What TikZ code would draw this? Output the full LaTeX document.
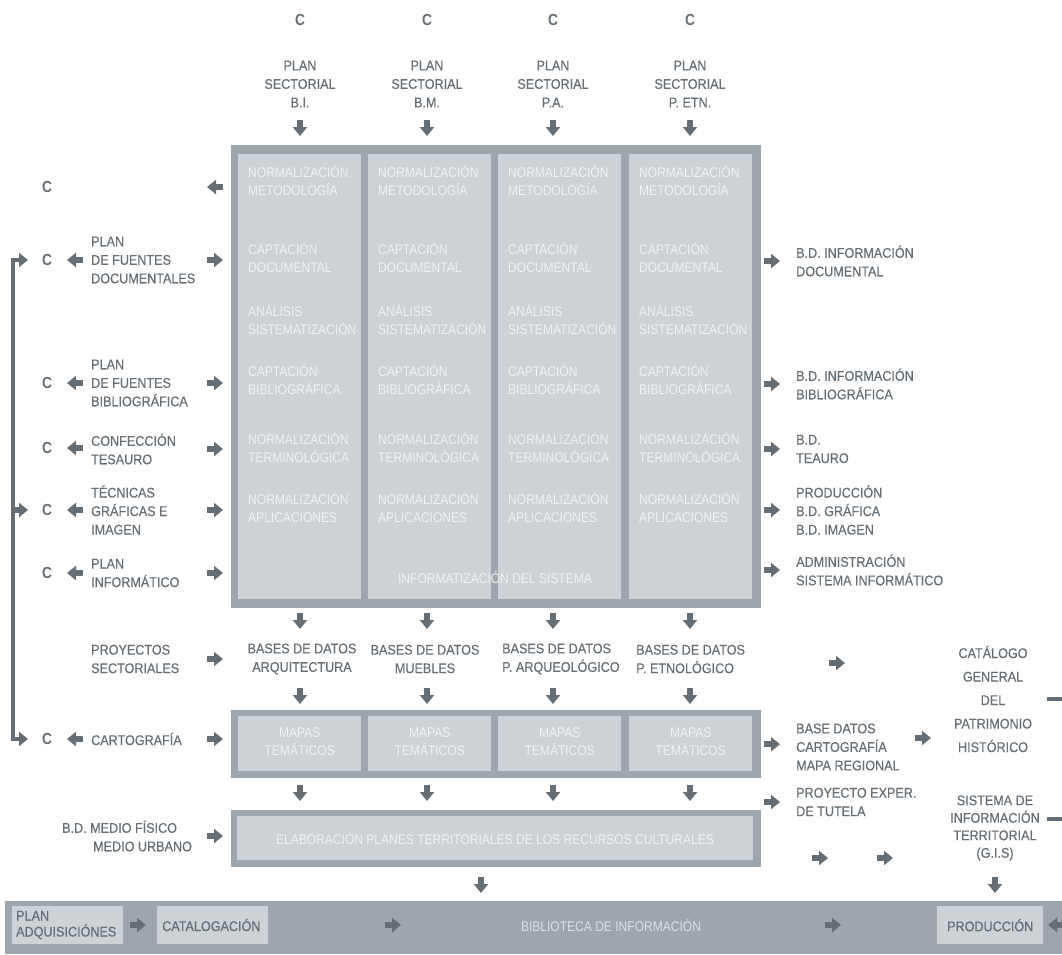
\documentclass[tikz,border=0pt]{standalone}
\usepackage{fontspec}
\setmainfont{Liberation Sans}[FakeStretch=0.86]
\newfontfamily\etqfont{Liberation Sans}[FakeStretch=0.9, FakeBold=0.35]
\usepackage{tikz}
\usetikzlibrary{positioning,arrows.meta,calc}
\definecolor{cgris}{HTML}{646E74}
\definecolor{cmarco}{HTML}{9EA6AD}
\definecolor{cpanel}{HTML}{CDD2D6}
\definecolor{cclaro}{HTML}{F0F2F3}
\definecolor{cbarra}{HTML}{DDE1E4}
\tikzset{
  etq/.style={font=\etqfont\fontsize{14}{18.5}\selectfont, text=cgris, align=left, inner sep=0pt},
  etqc/.style={etq, align=center},
  letra/.style={font=\fontsize{16}{17}\selectfont\bfseries, text=cgris, inner sep=0pt},
  blanco/.style={font=\fontsize{14}{18.5}\selectfont, text=cclaro, align=left, inner sep=0pt},
  marco/.style={rectangle, fill=cmarco, inner sep=0pt, anchor=north west},
  panel/.style={rectangle, fill=cpanel, inner sep=0pt, anchor=north west},
  flecha/.style={-{Triangle[length=9pt,width=14pt]}, line width=5.5pt, draw=cgris},
  riel/.style={{Triangle[length=9pt,width=14pt]}-{Triangle[length=9pt,width=14pt]}, line width=4pt, draw=cgris},
  tramo/.style={line width=4pt, draw=cgris},
}
\newcommand{\textopanel}{NORMALIZACIÓN\\METODOLOGÍA\\[40pt]CAPTACIÓN\\DOCUMENTAL\\[25pt]ANÁLISIS\\SISTEMATIZACIÓN\\[23pt]CAPTACIÓN\\BIBLIOGRÁFICA\\[31pt]NORMALIZACIÓN\\TERMINOLÓGICA\\[23pt]NORMALIZACIÓN\\APLICACIONES}

\begin{document}
\begin{tikzpicture}[x=1pt, y=-1pt]
  \useasboundingbox (0,0) rectangle (1062,954);
  % columnas de los planes sectoriales
  \node[letra] (c1) at (300,20) {C};
  \node[letra] (c2) at (427,20) {C};
  \node[letra] (c3) at (553,20) {C};
  \node[letra] (c4) at (690,20) {C};
  \node[etqc] (ps1) at (300,84) {PLAN\\SECTORIAL\\B.I.};
  \node[etqc] (ps2) at (427,84) {PLAN\\SECTORIAL\\B.M.};
  \node[etqc] (ps3) at (553,84) {PLAN\\SECTORIAL\\P.A.};
  \node[etqc] (ps4) at (690,84) {PLAN\\SECTORIAL\\P. ETN.};
  % marco principal y paneles
  \node[marco, minimum width=530pt, minimum height=463pt] (marco) at (231,145) {};
  \node[panel, minimum width=123pt, minimum height=445pt] (col1) at (238,154) {};
  \node[panel, minimum width=123pt, minimum height=445pt] (col2) at (368,154) {};
  \node[panel, minimum width=123pt, minimum height=445pt] (col3) at (498,154) {};
  \node[panel, minimum width=123pt, minimum height=445pt] (col4) at (629,154) {};
  \node[blanco, anchor=north west] (txt1) at (248,165) {\textopanel};
  \node[blanco, anchor=north west] (txt2) at (378,165) {\textopanel};
  \node[blanco, anchor=north west] (txt3) at (508,165) {\textopanel};
  \node[blanco, anchor=north west] (txt4) at (639,165) {\textopanel};
  \node[blanco] (infor) at (495,577) {INFORMATIZACIÓN DEL SISTEMA};
  % lado izquierdo
  \node[letra] (cmet) at (47,187) {C};
  \node[letra] (cdoc) at (47,260) {C};
  \node[letra] (cbib) at (47,383) {C};
  \node[letra] (ctes) at (47,448) {C};
  \node[letra] (ctec) at (47,510) {C};
  \node[letra] (cinf) at (47,573) {C};
  \node[letra] (ccar) at (47,739) {C};
  \node[etq, anchor=west] (ldoc) at (91,260) {PLAN\\DE FUENTES\\DOCUMENTALES};
  \node[etq, anchor=west] (lbib) at (91,383) {PLAN\\DE FUENTES\\BIBLIOGRÁFICA};
  \node[etq, anchor=west] (ltes) at (91,449) {CONFECCIÓN\\TESAURO};
  \node[etq, anchor=west] (ltec) at (91,510) {TÉCNICAS\\GRÁFICAS E\\IMAGEN};
  \node[etq, anchor=west] (linf) at (91,573) {PLAN\\INFORMÁTICO};
  \node[etq, anchor=west] (lpro) at (91,659) {PROYECTOS\\SECTORIALES};
  \node[etq, anchor=west] (lcar) at (91,739) {CARTOGRAFÍA};
  \node[etq, anchor=west] (lmed) at (62,836) {B.D. MEDIO FÍSICO\\\hspace*{31pt}MEDIO URBANO};
  % lado derecho
  \node[etq, anchor=west] (rdoc) at (796,261) {B.D. INFORMACIÓN\\DOCUMENTAL};
  \node[etq, anchor=west] (rbib) at (796,384) {B.D. INFORMACIÓN\\BIBLIOGRÁFICA};
  \node[etq, anchor=west] (rtes) at (796,449) {B.D.\\TEAURO};
  \node[etq, anchor=west] (rgra) at (796,510) {PRODUCCIÓN\\B.D. GRÁFICA\\B.D. IMAGEN};
  \node[etq, anchor=west] (radm) at (796,570) {ADMINISTRACIÓN\\SISTEMA INFORMÁTICO};
  % bases de datos
  \node[etqc] (bd1) at (302,659) {BASES DE DATOS\\ARQUITECTURA};
  \node[etqc] (bd2) at (425,659) {BASES DE DATOS\\MUEBLES};
  \node[etq, anchor=west] (bd3) at (502,659) {BASES DE DATOS\\P. ARQUEOLÓGICO};
  \node[etq, anchor=west] (bd4) at (636,659) {BASES DE DATOS\\P. ETNOLÓGICO};
  % mapas tematicos
  \node[marco, minimum width=530pt, minimum height=68pt] (mfr) at (231,710) {};
  \node[panel, minimum width=123pt, minimum height=55pt] (m1) at (238,716) {};
  \node[panel, minimum width=123pt, minimum height=55pt] (m2) at (368,716) {};
  \node[panel, minimum width=123pt, minimum height=55pt] (m3) at (498,716) {};
  \node[panel, minimum width=123pt, minimum height=55pt] (m4) at (629,716) {};
  \node[blanco, align=center] (tm1) at ([yshift=2pt]m1.center) {MAPAS\\TEMÁTICOS};
  \node[blanco, align=center] (tm2) at ([yshift=2pt]m2.center) {MAPAS\\TEMÁTICOS};
  \node[blanco, align=center] (tm3) at ([yshift=2pt]m3.center) {MAPAS\\TEMÁTICOS};
  \node[blanco, align=center] (tm4) at ([yshift=2pt]m4.center) {MAPAS\\TEMÁTICOS};
  \node[etq, anchor=west] (rmap) at (796,747) {BASE DATOS\\CARTOGRAFÍA\\MAPA REGIONAL};
  \node[etqc, font=\etqfont\fontsize{14}{23.5}\selectfont] (cat) at (993,699) {CATÁLOGO\\GENERAL\\DEL\\PATRIMONIO\\HISTÓRICO};
  % planes territoriales
  \node[marco, minimum width=530pt, minimum height=57pt] (efr) at (231,810) {};
  \node[panel, minimum width=516pt, minimum height=44pt] (elab) at (237,816) {};
  \node[blanco] (telab) at (495,838) {ELABORACIÓN PLANES TERRITORIALES DE LOS RECURSOS CULTURALES};
  \node[etq, anchor=west] (rtut) at (796,802) {PROYECTO EXPER.\\DE TUTELA};
  \node[etqc, font=\etqfont\fontsize{14}{17.5}\selectfont] (gis) at (995,828) {SISTEMA DE\\INFORMACIÓN\\TERRITORIAL\\(G.I.S)};
  % biblioteca
  \node[marco, minimum width=1058pt, minimum height=53pt] (barra) at (5,901) {};
  \node[panel, minimum width=111pt, minimum height=38pt] (adq) at (12,906) {};
  \node[panel, minimum width=111pt, minimum height=38pt] (catg) at (157,906) {};
  \node[panel, minimum width=106pt, minimum height=38pt] (prod) at (937,906) {};
  \node[etq, anchor=west, font=\etqfont\fontsize{14}{16}\selectfont] (tadq) at (16,925) {PLAN\\ADQUISICIÓNES};
  \node[etq, anchor=west] (tcatg) at (162,925) {CATALOGACIÓN};
  \node[blanco, text=cbarra] (tbib) at (611,925) {BIBLIOTECA DE INFORMACIÓN};
  \node[etq] (tprod) at (prod.center) {PRODUCCIÓN};
  % coordenadas de las flechas
  \coordinate (izq1) at (83,0); \coordinate (izq2) at (67,0);
  \coordinate (ent1) at (207,0); \coordinate (ent2) at (223,0);
  \coordinate (sal1) at (223,0); \coordinate (sal2) at (207,0);
  \coordinate (der1) at (764,0); \coordinate (der2) at (780,0);
  \coordinate (rA) at (13,0); \coordinate (rB) at (28,0);
  \coordinate (bA) at (1047,0); \coordinate (bB) at (1064,0);
  \coordinate (v1a) at (0,120); \coordinate (v1b) at (0,136);
  \coordinate (v2a) at (0,613); \coordinate (v2b) at (0,629);
  \coordinate (v3a) at (0,688); \coordinate (v3b) at (0,704);
  \coordinate (v4a) at (0,785); \coordinate (v4b) at (0,801);
  \coordinate (v5a) at (0,877); \coordinate (v5b) at (0,893);
  \coordinate (bajo) at (481,0);
  \coordinate (fl1) at (829,663); \coordinate (fl2) at (915,738);
  \coordinate (fl3) at (812,858); \coordinate (fl4) at (877,858);
  \coordinate (fb1) at (130,925); \coordinate (fb2) at (385,925);
  \coordinate (fb3) at (825,925); \coordinate (fb4) at (1064,925);
  % flechas hacia abajo
  \draw[flecha] (ps1 |- v1a)--(ps1 |- v1b); \draw[flecha] (ps2 |- v1a)--(ps2 |- v1b);
  \draw[flecha] (ps3 |- v1a)--(ps3 |- v1b); \draw[flecha] (ps4 |- v1a)--(ps4 |- v1b);
  \draw[flecha] (ps1 |- v2a)--(ps1 |- v2b); \draw[flecha] (ps2 |- v2a)--(ps2 |- v2b);
  \draw[flecha] (ps3 |- v2a)--(ps3 |- v2b); \draw[flecha] (ps4 |- v2a)--(ps4 |- v2b);
  \draw[flecha] (ps1 |- v3a)--(ps1 |- v3b); \draw[flecha] (ps2 |- v3a)--(ps2 |- v3b);
  \draw[flecha] (ps3 |- v3a)--(ps3 |- v3b); \draw[flecha] (ps4 |- v3a)--(ps4 |- v3b);
  \draw[flecha] (ps1 |- v4a)--(ps1 |- v4b); \draw[flecha] (ps2 |- v4a)--(ps2 |- v4b);
  \draw[flecha] (ps3 |- v4a)--(ps3 |- v4b); \draw[flecha] (ps4 |- v4a)--(ps4 |- v4b);
  \draw[flecha] (bajo |- v5a)--(bajo |- v5b); \draw[flecha] (gis |- v5a)--(gis |- v5b);
  % flechas de la izquierda
  \draw[flecha] (cmet -| sal1)--(cmet -| sal2);
  \draw[flecha] (cdoc -| izq1)--(cdoc -| izq2); \draw[flecha] (cbib -| izq1)--(cbib -| izq2);
  \draw[flecha] (ctes -| izq1)--(ctes -| izq2); \draw[flecha] (ctec -| izq1)--(ctec -| izq2);
  \draw[flecha] (cinf -| izq1)--(cinf -| izq2); \draw[flecha] (ccar -| izq1)--(ccar -| izq2);
  \draw[flecha] (ldoc -| ent1)--(ldoc -| ent2); \draw[flecha] (lbib -| ent1)--(lbib -| ent2);
  \draw[flecha] (ltes -| ent1)--(ltes -| ent2); \draw[flecha] (ltec -| ent1)--(ltec -| ent2);
  \draw[flecha] (linf -| ent1)--(linf -| ent2); \draw[flecha] (lpro -| ent1)--(lpro -| ent2);
  \draw[flecha] (lcar -| ent1)--(lcar -| ent2); \draw[flecha] (lmed -| ent1)--(lmed -| ent2);
  \draw[riel] (cdoc -| rB)--(cdoc -| rA)--(ccar -| rA)--(ccar -| rB);
  \draw[flecha] (ctec -| rA)--(ctec -| rB);
  % flechas de la derecha
  \draw[flecha] (rdoc -| der1)--(rdoc -| der2); \draw[flecha] (rbib -| der1)--(rbib -| der2);
  \draw[flecha] (rtes -| der1)--(rtes -| der2); \draw[flecha] (rgra -| der1)--(rgra -| der2);
  \draw[flecha] (radm -| der1)--(radm -| der2); \draw[flecha] (mfr -| der1)--(mfr -| der2);
  \draw[flecha] (rtut -| der1)--(rtut -| der2);
  \draw[flecha] (fl1)--++(16,0); \draw[flecha] (fl2)--++(16,0);
  \draw[flecha] (fl3)--++(16,0); \draw[flecha] (fl4)--++(16,0);
  \draw[tramo] (cat -| bA)--(cat -| bB);
  \draw[tramo] ([yshift=9pt]gis.east -| bA)--([yshift=9pt]gis.east -| bB);
  % flechas de la biblioteca
  \draw[flecha] (fb1)--++(16,0); \draw[flecha] (fb2)--++(16,0);
  \draw[flecha] (fb3)--++(16,0); \draw[flecha] (fb4)--++(-16,0);
\end{tikzpicture}
\end{document}
